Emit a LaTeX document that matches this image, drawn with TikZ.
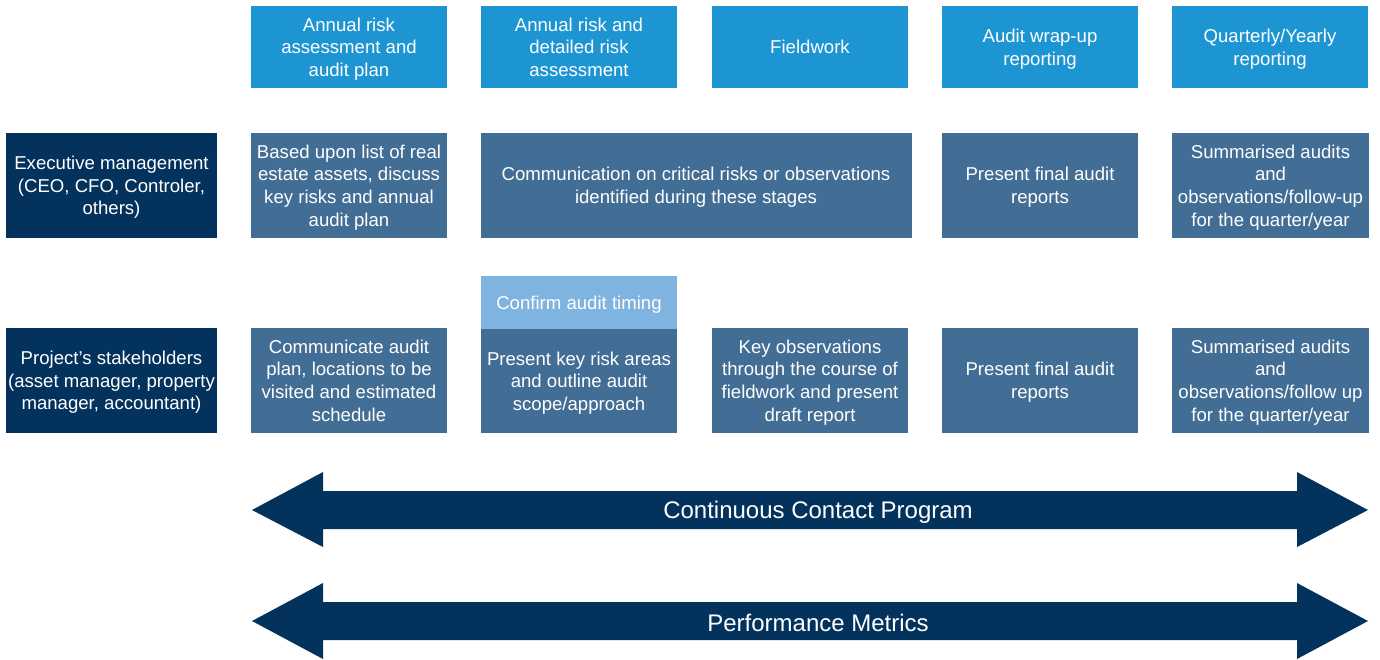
\documentclass[tikz,border=0pt]{standalone}
\usepackage{fontspec}
\setmainfont{Liberation Sans}
\begin{document}
\begin{tikzpicture}[x=1pt,y=-1pt,
  box/.style={draw=none,inner sep=0pt,text=white,align=center,text depth=-1pt,
    font=\fontsize{18.6}{22.6}\selectfont},
  phase/.style={box,fill=phaseblue},
  task/.style={box,fill=taskblue},
  role/.style={box,fill=navy},
  timing/.style={box,fill=skyblue},
  bigarrow/.style={fill=navy,draw=none},
  arrowlabel/.style={text=white,font=\fontsize{24}{28}\selectfont}]
\definecolor{phaseblue}{HTML}{1E95D3}
\definecolor{taskblue}{HTML}{426D95}
\definecolor{navy}{HTML}{03335C}
\definecolor{skyblue}{HTML}{80B4E0}
\useasboundingbox (0,0) rectangle (1380,659);
% phase headers
\node[phase,minimum width=196,minimum height=82] (p1) at (349,47) {Annual risk\\assessment and\\audit plan};
\node[phase,minimum width=196,minimum height=82] (p2) at (579,47) {Annual risk and\\detailed risk\\assessment};
\node[phase,minimum width=196,minimum height=82] (p3) at (810,47) {Fieldwork};
\node[phase,minimum width=196,minimum height=82] (p4) at (1040,47) {Audit wrap-up\\reporting};
\node[phase,minimum width=196,minimum height=82] (p5) at (1270,47) {Quarterly/Yearly\\reporting};
% executive management row
\node[role,minimum width=211,minimum height=105] (r1) at (111.5,185.5) {Executive management\\(CEO, CFO, Controler,\\others)};
\node[task,minimum width=196,minimum height=105] (e1) at (349,185.5) {Based upon list of real\\estate assets, discuss\\key risks and annual\\audit plan};
\node[task,minimum width=431,minimum height=105] (e2) at (696,185.5) {Communication on critical risks or observations\\identified during these stages};
\node[task,minimum width=196,minimum height=105] (e4) at (1040,185.5) {Present final audit\\reports};
\node[task,minimum width=197,minimum height=105] (e5) at (1270.5,185.5) {Summarised audits\\and\\observations/follow-up\\for the quarter/year};
% stakeholders row
\node[role,minimum width=211,minimum height=105] (r2) at (111.5,380.5) {Project's stakeholders\\(asset manager, property\\manager, accountant)};
\node[task,minimum width=196,minimum height=105] (s1) at (349,380.5) {Communicate audit\\plan, locations to be\\visited and estimated\\schedule};
\node[timing,minimum width=196,minimum height=53] (c2) at (579,302.5) {Confirm audit timing};
\node[task,minimum width=196,minimum height=104] (s2) at (579,381) {Present key risk areas\\and outline audit\\scope/approach};
\node[task,minimum width=196,minimum height=105] (s3) at (810,380.5) {Key observations\\through the course of\\fieldwork and present\\draft report};
\node[task,minimum width=196,minimum height=105] (s4) at (1040,380.5) {Present final audit\\reports};
\node[task,minimum width=197,minimum height=105] (s5) at (1270.5,380.5) {Summarised audits\\and\\observations/follow up\\for the quarter/year};
% double-headed block arrows
\fill[bigarrow] (252,510) -- (323,472) -- (323,491) -- (1297,491) -- (1297,472)
  -- (1368,510) -- (1297,547) -- (1297,529) -- (323,529) -- (323,547) -- cycle;
\node[arrowlabel] (a1) at (818,512) {Continuous Contact Program};
\fill[bigarrow] (252,621) -- (323,583) -- (323,602) -- (1297,602) -- (1297,583)
  -- (1368,621) -- (1297,659) -- (1297,640) -- (323,640) -- (323,659) -- cycle;
\node[arrowlabel] (a2) at (818,623) {Performance Metrics};
\end{tikzpicture}
\end{document}
